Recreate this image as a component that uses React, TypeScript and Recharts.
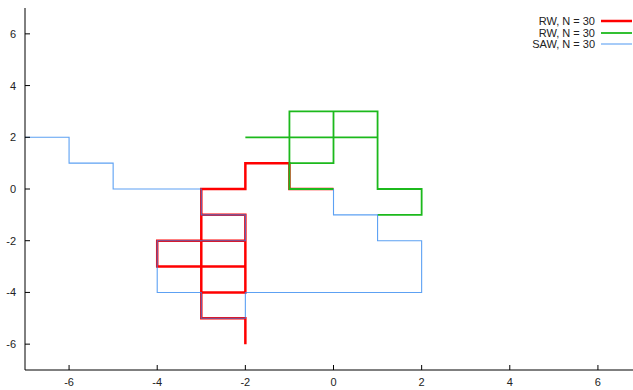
import React from 'react'
import { LineChart, Line, XAxis, YAxis } from 'recharts'

// lattice walks (x, y pairs)
const redWalk = [
  [0, 0], [-1, 0], [-1, 1], [-2, 1], [-2, 0], [-3, 0], [-3, -1], [-2, -1], [-2, -2],
  [-3, -2], [-2, -2], [-3, -2], [-4, -2], [-4, -3], [-3, -3], [-2, -3], [-2, -2], [-2, -3],
  [-2, -4], [-3, -4], [-2, -4], [-3, -4], [-3, -3], [-3, -2], [-3, -1], [-3, -2], [-3, -3],
  [-3, -4], [-3, -5], [-2, -5], [-2, -6],
].map(([x, y]) => ({ x, y }))

const greenWalk = [
  [0, 0], [-1, 0], [-1, 1], [0, 1], [0, 2], [0, 3], [-1, 3], [-1, 2], [-1, 1], [-1, 2],
  [-2, 2], [-1, 2], [0, 2], [1, 2], [1, 3], [0, 3], [0, 2], [1, 2], [1, 3], [1, 2],
  [1, 1], [1, 0], [2, 0], [2, -1], [1, -1],
].map(([x, y]) => ({ x, y }))

const sawWalk = [
  [0, 0], [0, -1], [1, -1], [1, -2], [2, -2], [2, -3], [2, -4], [1, -4], [0, -4], [-1, -4],
  [-2, -4], [-2, -5], [-3, -5], [-3, -4], [-4, -4], [-4, -3], [-4, -2], [-3, -2], [-2, -2],
  [-2, -1], [-3, -1], [-3, 0], [-4, 0], [-5, 0], [-5, 1], [-6, 1], [-6, 2], [-7, 2],
].map(([x, y]) => ({ x, y }))

const ticks = [-6, -4, -2, 0, 2, 4, 6]
const legendItems = [
  { label: 'RW, N = 30', color: '#ff0000', width: 2.5, opacity: 1 },
  { label: 'RW, N = 30', color: '#1cb91c', width: 1.8, opacity: 1 },
  { label: 'SAW, N = 30', color: '#2f86f0', width: 1.1, opacity: 0.78 },
]

const font = '"Liberation Sans", Arial, sans-serif'

const BottomTick = (props: any) => {
  const { x, y, payload } = props
  return (
    <g>
      <line x1={x} x2={x} y1={y} y2={y - 5} stroke="#000" />
      <text x={x} y={y + 16} textAnchor="middle" fontSize={11} fill="#222" fontFamily={font}>
        {payload.value}
      </text>
    </g>
  )
}

const TopTick = (props: any) => {
  const { x, y } = props
  return <line x1={x} x2={x} y1={y} y2={y + 5} stroke="#000" />
}

const LeftTick = (props: any) => {
  const { x, y, payload } = props
  return (
    <g>
      <line x1={x} x2={x + 5} y1={y} y2={y} stroke="#000" />
      <text x={x - 9} y={y + 4} textAnchor="end" fontSize={11} fill="#222" fontFamily={font}>
        {payload.value}
      </text>
    </g>
  )
}

export default function App() {
  return (
    <div style={{ position: 'absolute', left: 0, top: 0, width: 633, height: 390, overflow: 'hidden', background: '#fff' }}>
      <LineChart width={650} height={390} margin={{ top: 8, right: 8, left: 0, bottom: 0 }}>
        <XAxis
          type="number"
          dataKey="x"
          domain={[-7, 7]}
          ticks={ticks}
          allowDataOverflow
          height={20}
          tickSize={0}
          tickMargin={0}
          tickLine={false}
          axisLine={{ stroke: '#000' }}
          tick={BottomTick}
        />
        <XAxis
          xAxisId="top"
          orientation="top"
          type="number"
          domain={[-7, 7]}
          ticks={ticks}
          height={0}
          tickSize={0}
          tickMargin={0}
          tickLine={false}
          axisLine={{ stroke: '#000' }}
          tick={TopTick}
        />
        <YAxis
          type="number"
          dataKey="y"
          domain={[-7, 7]}
          ticks={ticks}
          allowDataOverflow
          width={25}
          tickSize={0}
          tickMargin={0}
          tickLine={false}
          axisLine={{ stroke: '#000' }}
          tick={LeftTick}
        />
        <Line data={redWalk} dataKey="y" type="linear" stroke="#ff0000" strokeWidth={2.5} dot={false} isAnimationActive={false} />
        <Line data={greenWalk} dataKey="y" type="linear" stroke="#1cb91c" strokeWidth={1.8} dot={false} isAnimationActive={false} />
        <Line data={sawWalk} dataKey="y" type="linear" stroke="#2f86f0" strokeOpacity={0.78} strokeWidth={1.1} dot={false} isAnimationActive={false} />
      </LineChart>
      <div style={{ position: 'absolute', left: 440, top: 15, width: 193, fontFamily: font, fontSize: 11, color: '#222' }}>
        {legendItems.map((item, i) => (
          <div key={i} style={{ display: 'flex', justifyContent: 'flex-end', alignItems: 'center', height: 11.7 }}>
            <span>{item.label}</span>
            <svg width={38} height={8}>
              <line x1={6} x2={37} y1={4} y2={4} stroke={item.color} strokeOpacity={item.opacity} strokeWidth={item.width} />
            </svg>
          </div>
        ))}
      </div>
    </div>
  )
}
